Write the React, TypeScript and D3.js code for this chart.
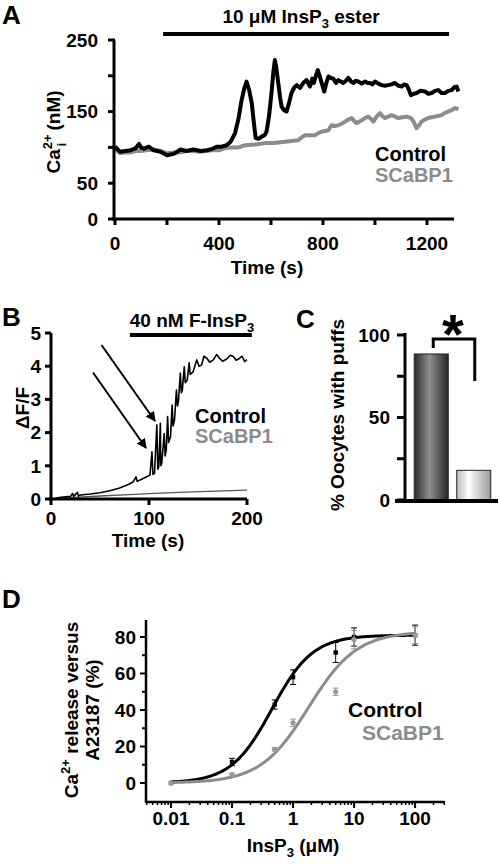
import React from "react";
import * as d3 from "d3";

const FONT = "'Liberation Sans', Arial, Helvetica, sans-serif";
const GRAY = "#8c8c8c";

// ---------- Panel A ----------
const aTicksY = [0, 50, 100, 150, 200, 250];
const aLabelsY = [0, 50, 150, 250];
const aTicksX = [0, 200, 400, 600, 800, 1000, 1200];
const aLabelsX = [0, 400, 800, 1200];
const aDrugRange = [185, 1285];
const aControlT = [0, 19, 40, 60, 80, 92, 100, 111, 130, 149, 175, 200, 226, 252, 275, 301, 330, 353, 375, 391, 410, 429, 445, 462, 475, 487, 497, 506, 516, 526, 534, 541, 552, 564, 575, 583, 593, 603, 609, 615, 621, 628, 635, 641, 650, 660, 670, 679, 690, 699, 712, 724, 737, 750, 759, 765, 772, 780, 787, 795, 805, 813, 821, 830, 840, 850, 859, 868, 878, 888, 898, 908, 917, 926, 936, 949, 962, 972, 981, 990, 1000, 1013, 1026, 1038, 1051, 1064, 1077, 1090, 1103, 1112, 1122, 1130, 1138, 1150, 1160, 1175, 1192, 1205, 1218, 1231, 1244, 1256, 1269, 1282, 1295, 1305, 1314, 1321];
const aControlV = [101, 94, 95, 96, 99, 105, 100, 98, 101, 96, 94, 89, 91, 97, 95, 97, 95, 96, 98, 101, 101, 103, 108, 120, 140, 166, 182, 192, 180, 162, 135, 113, 112, 115, 117, 122, 145, 180, 205, 222, 210, 190, 170, 157, 152, 150, 163, 176, 184, 187, 183, 190, 194, 185, 196, 190, 199, 208, 200, 190, 178, 190, 199, 197, 196, 190, 194, 192, 190, 193, 197, 192, 190, 193, 192, 189, 192, 190, 190, 188, 192, 189, 187, 186, 187, 188, 190, 186, 185, 188, 187, 181, 173, 175, 176, 179, 178, 175, 176, 179, 180, 176, 176, 179, 180, 184, 185, 178];
const aScabpT = [0, 20, 40, 60, 80, 100, 120, 150, 175, 200, 225, 250, 275, 300, 325, 350, 375, 400, 423, 450, 475, 500, 540, 577, 610, 654, 680, 705, 718, 731, 750, 769, 782, 795, 808, 821, 833, 846, 859, 872, 885, 898, 910, 920, 929, 940, 949, 962, 974, 984, 994, 1006, 1019, 1028, 1038, 1051, 1064, 1077, 1090, 1105, 1122, 1131, 1141, 1150, 1160, 1170, 1179, 1192, 1205, 1218, 1231, 1244, 1256, 1269, 1282, 1295, 1308, 1321];
const aScabpV = [98, 92, 93, 93, 95, 95, 96, 97, 95, 92, 93, 93, 95, 95, 94, 95, 96, 96, 99, 100, 100, 103, 104, 106, 106, 108, 109, 110, 114, 117, 117, 117, 120, 122, 123, 124, 131, 130, 131, 133, 136, 139, 141, 137, 134, 136, 138, 141, 143, 140, 136, 143, 148, 144, 141, 143, 145, 143, 141, 142, 143, 142, 140, 135, 127, 131, 136, 139, 141, 142, 143, 144, 145, 148, 150, 152, 155, 153];

// ---------- Panel B ----------
const bTicksY = [0, 1, 2, 3, 4, 5];
const bTicksX = [0, 100, 200];
const bDrugRange = [80.5, 205];
const bControlT = [0, 5, 10, 15, 20, 22, 23, 27, 28, 30, 40, 50, 60, 70, 80, 84, 86.7, 88, 94, 101, 103, 104, 105.6, 108, 109, 110, 111.6, 112, 113, 115.5, 116.5, 117.6, 119, 120, 122, 123.6, 124.5, 126, 128, 129, 130, 132, 133, 134, 136, 137, 139, 141, 142, 145, 148.7, 151, 153.7, 156, 159, 162, 165.6, 169, 172, 175, 179, 183, 186, 189, 192.5, 195, 197.6, 200];
const bControlV = [0, 0.02, 0.05, 0.07, 0.08, 0.17, 0.08, 0.2, 0.09, 0.12, 0.15, 0.19, 0.25, 0.33, 0.45, 0.52, 0.67, 0.53, 0.62, 0.72, 1.42, 0.74, 0.77, 2.23, 0.9, 0.97, 2.28, 1.0, 1.07, 1.97, 1.3, 1.48, 2.48, 1.7, 1.88, 2.83, 2.2, 2.38, 3.28, 2.8, 2.93, 3.79, 3.2, 3.28, 3.98, 3.5, 3.58, 4.1, 3.75, 3.83, 4.19, 4.0, 4.04, 4.3, 4.24, 4.12, 4.19, 4.35, 4.24, 4.15, 4.21, 4.33, 4.29, 4.18, 4.24, 4.3, 4.14, 4.2];
const bScabpT = [0, 20, 50, 80, 100, 130, 160, 200];
const bScabpV = [0, 0.04, 0.09, 0.13, 0.16, 0.2, 0.23, 0.27];

// ---------- Panel C ----------
const cCategories = ["Control", "SCaBP1"];
const cValues = [88.5, 18];
const cTicksY = [0, 25, 50, 75, 100];
const cLabelsY = [0, 50, 100];

// ---------- Panel D ----------
const dConc = [0.01, 0.1, 0.5, 1, 5, 10, 100];
const dControl = [0, 11.5, 43, 58, 71.5, 80, 81];
const dControlErr = [0, 2, 2.5, 4, 5.5, 5, 5.5];
const dScabp = [0, 4.5, 18.5, 33, 50, 78.5, 81];
const dScabpErr = [0, 1, 1, 2, 2, 5, 4.5];
const dTicksX = [0.01, 0.1, 1, 10, 100];
const dLabelsX = ["0.01", "0.1", "1", "10", "100"];
const dTicksY = [0, 10, 20, 30, 40, 50, 60, 70, 80];
const dLabelsY = [0, 20, 40, 60, 80];
// Hill fit parameters [max, EC50, hill]
const dFitControl = [81, 0.45, 1.3];
const dFitScabp = [83, 1.8, 1.1];

const txt = { fontFamily: FONT, fontWeight: "bold" as const };

function hill(p: number[], c: number) {
  const r = Math.pow(c / p[1], p[2]);
  return (p[0] * r) / (1 + r);
}

export default function App() {
  // A
  const ax = d3.scaleLinear().domain([0, 1304]).range([115, 454]);
  const ay = d3.scaleLinear().domain([0, 250]).range([219, 40]);
  const aLine = d3.line<[number, number]>().x((d) => ax(d[0])).y((d) => ay(d[1]));
  const aCtrl = aLine(aControlT.map((t, i) => [t, aControlV[i]]) as [number, number][]);
  const aScab = aLine(aScabpT.map((t, i) => [t, aScabpV[i]]) as [number, number][]);

  // B
  const bx = d3.scaleLinear().domain([0, 200]).range([51, 247]);
  const by = d3.scaleLinear().domain([0, 5]).range([499, 333]);
  const bLine = d3.line<[number, number]>().x((d) => bx(d[0])).y((d) => by(d[1]));
  const bCtrl = bLine(bControlT.map((t, i) => [t, bControlV[i]]) as [number, number][]);
  const bScab = bLine(bScabpT.map((t, i) => [t, bScabpV[i]]) as [number, number][]);

  // C
  const cy = d3.scaleLinear().domain([0, 100]).range([500, 335]);
  const cx = d3.scaleBand<string>().domain(cCategories).range([410, 495]).paddingInner(0.2).paddingOuter(0.1);

  // D
  const dx = d3.scaleLog().domain([Math.pow(10, -2.41), Math.pow(10, 2.49)]).range([146, 445]);
  const dy = d3.scaleLinear().domain([-10.4, 89.3]).range([802, 620]);
  const dMinor: number[] = [];
  for (let e = -3; e <= 2; e++) {
    for (let k = 2; k <= 9; k++) {
      const v = k * Math.pow(10, e);
      if (v > dx.domain()[0] && v < dx.domain()[1]) dMinor.push(v);
    }
  }
  const fitXs = d3.range(0, 201).map((i) => Math.pow(10, -2 + (4 * i) / 200));
  const dLine = d3.line<[number, number]>().x((d) => dx(d[0])).y((d) => dy(d[1]));
  const dCtrlFit = dLine(fitXs.map((c) => [c, hill(dFitControl, c)]) as [number, number][]);
  const dScabFit = dLine(fitXs.map((c) => [c, hill(dFitScabp, c)]) as [number, number][]);

  return (
    <svg width={500} height={864} style={{ position: "absolute", left: 0, top: 0, background: "#fff" }}>
      <defs>
        <linearGradient id="barDark" x1="0" x2="1" y1="0" y2="0">
          <stop offset="0%" stopColor="#2e2e2e" />
          <stop offset="45%" stopColor="#8e8e8e" />
          <stop offset="100%" stopColor="#262626" />
        </linearGradient>
        <linearGradient id="barLight" x1="0" x2="1" y1="0" y2="0">
          <stop offset="0%" stopColor="#b8b8b8" />
          <stop offset="35%" stopColor="#ffffff" />
          <stop offset="100%" stopColor="#9a9a9a" />
        </linearGradient>
        <marker id="arrowHead" viewBox="0 0 10 10" refX="9" refY="5" markerWidth="5" markerHeight="5" orient="auto">
          <path d="M0,0 L10,5 L0,10 Z" fill="#000" />
        </marker>
      </defs>

      {/* ================= Panel A ================= */}
      <text x={2} y={24} fontSize={26} {...txt}>A</text>
      <text x={301} y={23} fontSize={19} textAnchor="middle" {...txt}>
        10 μM InsP<tspan dy={5} fontSize={13}>3</tspan><tspan dy={-5}> ester</tspan>
      </text>
      <line x1={ax(aDrugRange[0])} x2={ax(aDrugRange[1])} y1={34} y2={34} stroke="#000" strokeWidth={4} />
      <path d={aScab || ""} fill="none" stroke={GRAY} strokeWidth={4} strokeLinejoin="round" />
      <path d={aCtrl || ""} fill="none" stroke="#000" strokeWidth={4} strokeLinejoin="round" />
      <line x1={ax(0) - 1} x2={ax(0) - 1} y1={ay(250)} y2={ay(0) + 1.5} stroke="#000" strokeWidth={3} />
      <line x1={ax(0) - 2.5} x2={ax(1304)} y1={ay(0)} y2={ay(0)} stroke="#000" strokeWidth={3} />
      {aTicksY.map((v) => (
        <line key={"ayt" + v} x1={ax(0) - 7} x2={ax(0)} y1={ay(v)} y2={ay(v)} stroke="#000" strokeWidth={3} />
      ))}
      {aLabelsY.map((v) => (
        <text key={"ayl" + v} x={98} y={ay(v)} dy="0.36em" fontSize={19} textAnchor="end" {...txt}>{v}</text>
      ))}
      {aTicksX.map((v) => (
        <line key={"axt" + v} x1={ax(v)} x2={ax(v)} y1={ay(0)} y2={ay(0) + 6} stroke="#000" strokeWidth={3} />
      ))}
      {aLabelsX.map((v) => (
        <text key={"axl" + v} x={ax(v)} y={250} fontSize={19} textAnchor="middle" {...txt}>{v}</text>
      ))}
      <text x={267} y={274} fontSize={19} textAnchor="middle" {...txt}>Time (s)</text>
      <text transform="translate(60,132) rotate(-90)" fontSize={19} textAnchor="middle" {...txt}>
        Ca<tspan dy={-8} fontSize={13}>2+</tspan><tspan dx={-12} dy={14} fontSize={13}>i</tspan><tspan dx={7} dy={-6}> (nM)</tspan>
      </text>
      <text x={375} y={161} fontSize={20} fill="#000" {...txt}>Control</text>
      <text x={375} y={182} fontSize={20} fill={GRAY} {...txt}>SCaBP1</text>

      {/* ================= Panel B ================= */}
      <text x={2} y={326} fontSize={26} {...txt}>B</text>
      <text x={192} y={327} fontSize={19} textAnchor="middle" {...txt}>
        40 nM F-InsP<tspan dy={5} fontSize={13}>3</tspan>
      </text>
      <line x1={bx(bDrugRange[0])} x2={bx(bDrugRange[1])} y1={335} y2={335} stroke="#000" strokeWidth={4} />
      <path d={bScab || ""} fill="none" stroke="#555" strokeWidth={1.3} />
      <path d={bCtrl || ""} fill="none" stroke="#000" strokeWidth={1.6} strokeLinejoin="round" />
      <line x1={bx(0)} x2={bx(0)} y1={by(5)} y2={by(0) + 1.5} stroke="#000" strokeWidth={3} />
      <line x1={bx(0) - 1.5} x2={bx(200)} y1={by(0)} y2={by(0)} stroke="#000" strokeWidth={3} />
      {bTicksY.map((v) => (
        <line key={"byt" + v} x1={bx(0) - 6} x2={bx(0)} y1={by(v)} y2={by(v)} stroke="#000" strokeWidth={3} />
      ))}
      {bTicksY.map((v) => (
        <text key={"byl" + v} x={41} y={by(v)} dy="0.36em" fontSize={19} textAnchor="end" {...txt}>{v}</text>
      ))}
      {bTicksX.map((v) => (
        <line key={"bxt" + v} x1={bx(v)} x2={bx(v)} y1={by(0)} y2={by(0) + 6} stroke="#000" strokeWidth={3} />
      ))}
      {bTicksX.map((v) => (
        <text key={"bxl" + v} x={bx(v)} y={525} fontSize={19} textAnchor="middle" {...txt}>{v}</text>
      ))}
      <text x={148} y={547} fontSize={19} textAnchor="middle" {...txt}>Time (s)</text>
      <text transform="translate(29,408) rotate(-90)" fontSize={19} textAnchor="middle" {...txt}>ΔF/F</text>
      <line x1={101.5} y1={345} x2={155} y2={421} stroke="#000" strokeWidth={2} markerEnd="url(#arrowHead)" />
      <line x1={93} y1={372.5} x2={146} y2={448} stroke="#000" strokeWidth={2} markerEnd="url(#arrowHead)" />
      <text x={195} y={423} fontSize={20} fill="#000" {...txt}>Control</text>
      <text x={195} y={443} fontSize={20} fill={GRAY} {...txt}>SCaBP1</text>

      {/* ================= Panel C ================= */}
      <text x={296} y={328} fontSize={26} {...txt}>C</text>
      {cCategories.map((c, i) => (
        <rect key={"cb" + c} x={cx(c)} y={cy(cValues[i])} width={cx.bandwidth()} height={cy(0) - cy(cValues[i])}
          fill={i === 0 ? "url(#barDark)" : "url(#barLight)"} stroke="#222" strokeWidth={1} />
      ))}
      <line x1={405} x2={405} y1={cy(100) - 2} y2={cy(0)} stroke="#000" strokeWidth={3} />
      <line x1={395} x2={498} y1={cy(0) + 1} y2={cy(0) + 1} stroke="#000" strokeWidth={4} />
      {cTicksY.map((v) => (
        <line key={"cyt" + v} x1={397} x2={405} y1={cy(v)} y2={cy(v)} stroke="#000" strokeWidth={3} />
      ))}
      {cLabelsY.map((v) => (
        <text key={"cyl" + v} x={390} y={cy(v)} dy="0.36em" fontSize={19} textAnchor="end" {...txt}>{v}</text>
      ))}
      <text transform="translate(344,415) rotate(-90)" fontSize={19} textAnchor="middle" {...txt}>% Oocytes with puffs</text>
      <path d={`M${(cx("Control") || 0) + 19},${cy(cValues[0]) - 6} V339 H${(cx("SCaBP1") || 0) + 18} V381`} fill="none" stroke="#000" strokeWidth={3} />
      <text x={453} y={353} fontSize={56} textAnchor="middle" {...txt}>*</text>

      {/* ================= Panel D ================= */}
      <text x={2} y={608} fontSize={26} {...txt}>D</text>
      <path d={dCtrlFit || ""} fill="none" stroke="#000" strokeWidth={3} />
      <path d={dScabFit || ""} fill="none" stroke={GRAY} strokeWidth={3} />
      {dConc.map((c, i) => (
        <g key={"dce" + c}>
          {dControlErr[i] > 0 && (
            <g stroke="#000" strokeWidth={1}>
              <line x1={dx(c)} x2={dx(c)} y1={dy(dControl[i] - dControlErr[i])} y2={dy(dControl[i] + dControlErr[i])} />
              <line x1={dx(c) - 3} x2={dx(c) + 3} y1={dy(dControl[i] + dControlErr[i])} y2={dy(dControl[i] + dControlErr[i])} />
              <line x1={dx(c) - 3} x2={dx(c) + 3} y1={dy(dControl[i] - dControlErr[i])} y2={dy(dControl[i] - dControlErr[i])} />
            </g>
          )}
          <rect x={dx(c) - 2.2} y={dy(dControl[i]) - 2.2} width={4.4} height={4.4} fill="#000" />
        </g>
      ))}
      {dConc.map((c, i) => (
        <g key={"dse" + c}>
          {dScabpErr[i] > 0 && (
            <g stroke="#999" strokeWidth={1}>
              <line x1={dx(c)} x2={dx(c)} y1={dy(dScabp[i] - dScabpErr[i])} y2={dy(dScabp[i] + dScabpErr[i])} />
              <line x1={dx(c) - 3} x2={dx(c) + 3} y1={dy(dScabp[i] + dScabpErr[i])} y2={dy(dScabp[i] + dScabpErr[i])} />
              <line x1={dx(c) - 3} x2={dx(c) + 3} y1={dy(dScabp[i] - dScabpErr[i])} y2={dy(dScabp[i] - dScabpErr[i])} />
            </g>
          )}
          <circle cx={dx(c)} cy={dy(dScabp[i])} r={2.6} fill="#999" />
        </g>
      ))}
      <line x1={146} x2={146} y1={620} y2={803} stroke="#000" strokeWidth={2.5} />
      <line x1={145} x2={445} y1={802} y2={802} stroke="#000" strokeWidth={2.5} />
      {dTicksY.map((v) => (
        <line key={"dyt" + v} x1={v % 20 === 0 ? 140 : 142} x2={146} y1={dy(v)} y2={dy(v)} stroke="#000" strokeWidth={2} />
      ))}
      {dLabelsY.map((v) => (
        <text key={"dyl" + v} x={136} y={dy(v)} dy="0.36em" fontSize={19} textAnchor="end" {...txt}>{v}</text>
      ))}
      {dTicksX.map((v) => (
        <line key={"dxt" + v} x1={dx(v)} x2={dx(v)} y1={802} y2={808} stroke="#000" strokeWidth={2} />
      ))}
      {dMinor.map((v) => (
        <line key={"dxm" + v} x1={dx(v)} x2={dx(v)} y1={802} y2={805} stroke="#000" strokeWidth={1.5} />
      ))}
      {dTicksX.map((v, i) => (
        <text key={"dxl" + v} x={dx(v)} y={825} fontSize={19} textAnchor="middle" {...txt}>{dLabelsX[i]}</text>
      ))}
      <text x={293} y={852} fontSize={19} textAnchor="middle" {...txt}>
        InsP<tspan dy={5} fontSize={13}>3</tspan><tspan dy={-5}> (μM)</tspan>
      </text>
      <text transform="translate(78,710) rotate(-90)" fontSize={19} textAnchor="middle" {...txt}>
        Ca<tspan dy={-8} fontSize={13}>2+</tspan><tspan dy={8}> release versus</tspan>
      </text>
      <text transform="translate(99,710) rotate(-90)" fontSize={19} textAnchor="middle" {...txt}>A23187 (%)</text>
      <text x={348} y={717} fontSize={21} fill="#000" {...txt}>Control</text>
      <text x={362} y={740} fontSize={21} fill={GRAY} {...txt}>SCaBP1</text>
    </svg>
  );
}
